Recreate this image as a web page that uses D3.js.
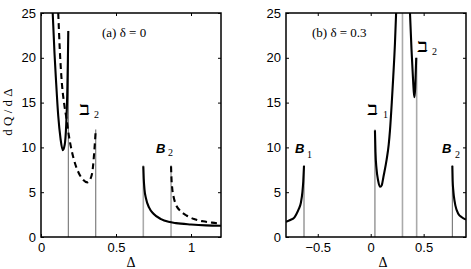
<!DOCTYPE html>
<html><head><meta charset="utf-8">
<script src="https://cdn.jsdelivr.net/npm/d3@7"></script>
<style>body{margin:0;background:#fff}svg{display:block}</style>
</head><body>
<svg id="c" width="471" height="269"></svg>
<script>
// ---- data ----
// panel (a) delta = 0
const aXTicks = [0, 0.5, 1];
const aXTickLabels = ["0", "0.5", "1"];
const yTicks = [0, 5, 10, 15, 20, 25];
const yTickLabels = ["0", "5", "10", "15", "20", "25"];
const aSolidLeft = [[0.078,25],[0.09,20.5],[0.1,17.5],[0.115,13.5],[0.13,11],[0.145,9.7],[0.158,10.3],[0.168,12.5],[0.175,16],[0.179,19.5],[0.182,23]];
const aDashedLeft = [[0.115,25],[0.125,21],[0.14,17],[0.155,14.8],[0.17,13.2],[0.185,11.4],[0.2,10],[0.22,8.6],[0.25,7.2],[0.28,6.4],[0.31,6.1],[0.33,6.5],[0.345,7.6],[0.355,9.5],[0.365,12]];
const aSolidRight = [[0.682,7.9],[0.685,6.5],[0.69,5.3],[0.70,4.3],[0.72,3.3],[0.75,2.6],[0.8,2.0],[0.85,1.7],[0.9,1.55],[1.0,1.4],[1.1,1.3],[1.2,1.25]];
const aDashedRight = [[0.867,7.9],[0.87,6.5],[0.875,5.4],[0.885,4.4],[0.9,3.6],[0.93,2.9],[0.97,2.4],[1.02,2.0],[1.08,1.75],[1.14,1.6],[1.2,1.5]];
const aVLines = [[0.182,23,"dark"],[0.365,12,"dark"],[0.682,8,"light"],[0.867,8,"light"]];
// panel (b) delta = 0.3
const bXTicks = [-0.5, 0, 0.5];
const bXTickLabels = ["\u22120.5", "0", "0.5"];
const bB1 = [[-0.8,1.7],[-0.76,1.9],[-0.72,2.2],[-0.7,2.6],[-0.68,3.1],[-0.66,3.8],[-0.645,5],[-0.637,6.2],[-0.63,7.95]];
const bBet1 = [[0.04,11.9],[0.045,9.5],[0.055,7.6],[0.07,6.3],[0.09,5.6],[0.105,5.8],[0.12,6.7],[0.15,8.6],[0.17,10.3],[0.182,11.9],[0.2,15.2],[0.213,17.9],[0.229,21.6],[0.24,25]];
const bBet2 = [[0.371,25],[0.385,21],[0.398,18],[0.407,16.2],[0.413,15.6],[0.42,16.6],[0.425,18.3],[0.43,20]];
const bB2 = [[0.771,7.95],[0.774,6.3],[0.78,5.2],[0.786,4.5],[0.8,3.5],[0.827,2.6],[0.86,2.2],[0.9,1.95]];
const bVLines = [[-0.63,8,"dark"],[0.04,12,"dark"],[0.3,25,"light"],[0.434,20,"light"],[0.771,8,"dark"]];

const svg = d3.select("#c");
const plotTop = 13, plotBottom = 237;

function panel(id, x0, x1, domain, xt, xtl, curves, vlines, labels, title) {
  const x = d3.scaleLinear().domain(domain).range([x0, x1]);
  const y = d3.scaleLinear().domain([0, 25]).range([plotBottom, plotTop]);
  const g = svg.append("g");
  g.append("clipPath").attr("id", id).append("rect")
    .attr("x", x0).attr("y", plotTop).attr("width", x1 - x0).attr("height", plotBottom - plotTop);
  const pg = g.append("g").attr("clip-path", `url(#${id})`);
  vlines.forEach(v => {
    pg.append("line").attr("x1", x(v[0])).attr("x2", x(v[0])).attr("y1", y(0)).attr("y2", y(v[1]))
      .attr("stroke", v[2] === "dark" ? "#666" : "#aaa")
      .attr("stroke-width", v[2] === "dark" ? 1 : 1.6);
  });
  const line = d3.line().x(d => x(d[0])).y(d => y(d[1])).curve(d3.curveMonotoneX);
  curves.forEach(c => {
    pg.append("path").attr("d", line(c.data)).attr("fill", "none").attr("stroke", "#000")
      .attr("stroke-width", 2.1).attr("stroke-dasharray", c.dashed ? "6,4" : null);
  });
  // axes
  const ax = g.append("g");
  const xb = d3.axisBottom(x).tickValues(xt).tickFormat((d, i) => xtl[i]).tickSizeInner(-3).tickSizeOuter(0).tickPadding(6);
  const xtp = d3.axisTop(x).tickValues(xt).tickFormat("").tickSizeInner(-3).tickSizeOuter(0);
  const yl = d3.axisLeft(y).tickValues(yTicks).tickFormat((d, i) => yTickLabels[i]).tickSizeInner(-3).tickSizeOuter(0).tickPadding(5);
  const yr = d3.axisRight(y).tickValues(yTicks).tickFormat("").tickSizeInner(-3).tickSizeOuter(0);
  [[xb, `translate(0,${plotBottom})`], [xtp, `translate(0,${plotTop})`], [yl, `translate(${x0},0)`], [yr, `translate(${x1},0)`]].forEach(([a, t]) => {
    const s = ax.append("g").attr("transform", t).call(a);
    s.attr("font-family", "Liberation Sans, Arial, sans-serif").attr("font-size", 13);
    s.select(".domain").remove();
    s.selectAll(".tick line").attr("stroke", "#000").attr("stroke-width", 1);
    s.selectAll(".tick text").attr("fill", "#000");
  });
  g.append("rect").attr("x", x0).attr("y", plotTop).attr("width", x1 - x0).attr("height", plotBottom - plotTop)
    .attr("fill", "none").attr("stroke", "#000").attr("stroke-width", 1.5);
  // title
  g.append("text").attr("x", title.x).attr("y", 37).attr("font-family", "Liberation Serif, Times New Roman, serif")
    .attr("font-size", 13).text(title.t);
  // x label
  g.append("text").attr("x", (x0 + x1) / 2 + title.dx).attr("y", 267).attr("text-anchor", "middle")
    .attr("font-family", "Liberation Serif, Times New Roman, serif").attr("font-size", 14).text("\u0394");
  labels.forEach(l => {
    const t = g.append("text").attr("x", l.x).attr("y", l.y);
    if (l.bet) {
      t.attr("font-family", "DejaVu Sans, sans-serif").attr("font-weight", "bold").attr("font-size", 15).text("\u2136");
    } else {
      t.attr("font-family", "Liberation Sans, Arial, sans-serif").attr("font-weight", "bold").attr("font-style", "italic").attr("font-size", 13).text("B");
    }
    g.append("text").attr("x", l.sx).attr("y", l.sy).attr("font-family", "Liberation Serif, Times New Roman, serif")
      .attr("font-size", 10).text(l.sub);
  });
}

panel("ca", 41, 221, [0, 1.2], aXTicks, aXTickLabels,
  [{data: aSolidLeft}, {data: aDashedLeft, dashed: true}, {data: aSolidRight}, {data: aDashedRight, dashed: true}],
  aVLines,
  [{bet: true, x: 79, y: 115, sx: 94, sy: 118, sub: "2"}, {x: 156, y: 153, sx: 168, sy: 156, sub: "2"}],
  {x: 102, t: "(a) \u03b4 = 0", dx: 0});

panel("cb", 286, 466, [-0.8, 0.9], bXTicks, bXTickLabels,
  [{data: bB1}, {data: bBet1}, {data: bBet2}, {data: bB2}],
  bVLines,
  [{bet: true, x: 367, y: 115, sx: 383, sy: 118, sub: "1"}, {bet: true, x: 417, y: 52, sx: 432, sy: 55, sub: "2"},
   {x: 295, y: 153, sx: 307, sy: 158, sub: "1"}, {x: 442, y: 153, sx: 455, sy: 158, sub: "2"}],
  {x: 312, t: "(b) \u03b4 = 0.3", dx: 7});

// y label
svg.append("text").attr("transform", "translate(12,112) rotate(-90)").attr("text-anchor", "middle")
  .attr("font-family", "Liberation Serif, Times New Roman, serif").attr("font-size", 13).text("d Q / d \u0394");
</script>
</body></html>
